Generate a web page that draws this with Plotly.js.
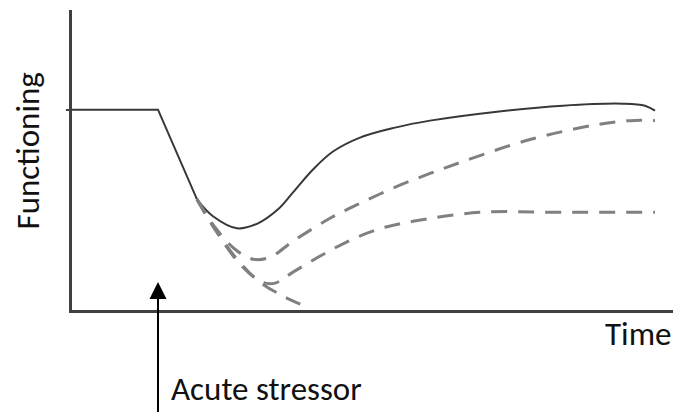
<!DOCTYPE html>
<html>
<head>
<meta charset="utf-8">
<script src="https://cdn.plot.ly/plotly-3.0.1.min.js"></script>
<style>html,body{margin:0;padding:0;background:#fff;}#chart{width:673px;height:412px;}</style>
</head>
<body>
<div id="chart"></div>
<script>
// Time / functioning values (arbitrary units)
const baselineTime = [0, 86, 125];
const baselineFunc = [201, 201, 111];

const resilientTime = [125, 141, 165, 186, 206, 221, 241, 261, 288, 323, 358, 425, 491, 551, 573, 583];
const resilientFunc = [111, 94, 82, 87, 101, 118, 141, 159, 173, 183, 190, 199, 205, 207, 205, 200];

const recoveryTime = [125, 143, 163, 181, 198, 221, 258, 288, 325, 358, 391, 458, 525, 558, 583];
const recoveryFunc = [111, 83, 61, 51, 53, 69, 92, 107, 124, 137, 149, 171, 186, 190, 190];

const partialTime = [125, 143, 168, 190, 203, 221, 255, 285, 313, 341, 408, 491, 583];
const partialFunc = [111, 81, 46, 28, 27, 38, 58, 73, 83, 89, 98, 98, 98];

const declineTime = [125, 143, 165, 188, 213, 235];
const declineFunc = [111, 81, 51, 28, 13, 3];

const stressorTime = 86;
const stressorTip = 28;
const stressorTail = -130;

const solidColor = '#383838';
const dashColor = '#808080';
const dashPattern = '16px,11px';
const fontFam = 'Carlito, Lato, "Open Sans", sans-serif';
const fontSize = 33;

const traces = [
  {x: baselineTime, y: baselineFunc, mode: 'lines', line: {color: solidColor, width: 2}, hoverinfo: 'skip'},
  {x: resilientTime, y: resilientFunc, mode: 'lines', line: {color: solidColor, width: 2, shape: 'spline', smoothing: 1}, hoverinfo: 'skip'},
  {x: recoveryTime, y: recoveryFunc, mode: 'lines', line: {color: dashColor, width: 3, dash: dashPattern, shape: 'spline', smoothing: 1}, hoverinfo: 'skip'},
  {x: partialTime, y: partialFunc, mode: 'lines', line: {color: dashColor, width: 3, dash: dashPattern, shape: 'spline', smoothing: 1}, hoverinfo: 'skip'},
  {x: declineTime, y: declineFunc, mode: 'lines', line: {color: dashColor, width: 3, dash: dashPattern, shape: 'spline', smoothing: 1}, hoverinfo: 'skip'}
];

const layout = {
  width: 673, height: 412,
  margin: {l: 72, r: 0, t: 10, b: 102},
  paper_bgcolor: '#fff', plot_bgcolor: '#fff',
  showlegend: false,
  xaxis: {range: [0, 601], showline: true, linecolor: '#404040', linewidth: 3, showgrid: false, zeroline: false, showticklabels: false, ticks: '', fixedrange: true},
  yaxis: {range: [0, 301], showline: true, linecolor: '#404040', linewidth: 3, showgrid: false, zeroline: false, showticklabels: false,
          ticks: 'outside', tickvals: [baselineFunc[0]], ticklen: 3, tickwidth: 2, tickcolor: '#404040', fixedrange: true},
  annotations: [
    {xref: 'x', yref: 'y', x: stressorTime, y: stressorTip, axref: 'x', ayref: 'y', ax: stressorTime, ay: stressorTail,
     text: '', showarrow: true, arrowhead: 2, arrowsize: 1.7, arrowwidth: 2, arrowcolor: '#000'},
    {xref: 'paper', yref: 'paper', x: (169 - 72) / 601, y: (311 - 390) / 301, xanchor: 'left', yanchor: 'middle',
     text: 'Acute stressor', showarrow: false, font: {family: fontFam, size: fontSize, color: '#111'}},
    {xref: 'paper', yref: 'paper', x: (603 - 72) / 601, y: (311 - 335) / 301, xanchor: 'left', yanchor: 'middle',
     text: 'Time', showarrow: false, font: {family: fontFam, size: fontSize, color: '#111'}},
    {xref: 'paper', yref: 'paper', x: (28 - 72) / 601, y: (311 - 152) / 301, xanchor: 'center', yanchor: 'middle',
     text: 'Functioning', textangle: -90, showarrow: false, font: {family: fontFam, size: fontSize, color: '#111'}}
  ]
};

Plotly.newPlot('chart', traces, layout, {staticPlot: true, displayModeBar: false});
</script>
</body>
</html>
